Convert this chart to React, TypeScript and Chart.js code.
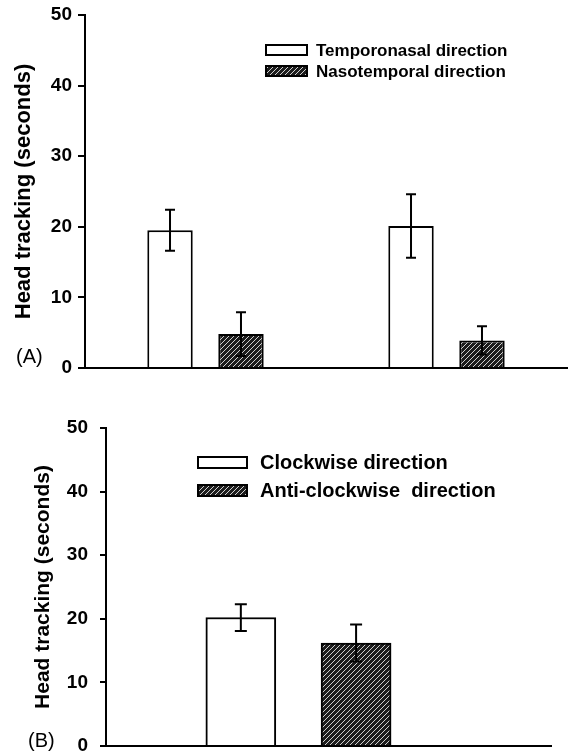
import React, { useEffect, useRef } from 'react';
import { Chart, registerables } from 'chart.js';

Chart.register(...registerables);

const FONT = '"Liberation Sans", Arial, Helvetica, sans-serif';

// ---------- Panel A data ----------
const categoriesA = ['Group 1', 'Group 2'];
const seriesLabelsA = ['Temporonasal direction', 'Nasotemporal direction'];
const temporonasalA = [19.5, 20.1];
const temporonasalErrA = [2.9, 4.5];
const nasotemporalA = [4.8, 3.9];
const nasotemporalErrA = [3.1, 2.0];

// ---------- Panel B data ----------
const seriesLabelsB = ['Clockwise direction', 'Anti-clockwise  direction'];
const positionsB = [3.03, 5.62];
const clockwiseB = [20.2];
const clockwiseErrB = [2.1];
const antiClockwiseB = [16.2];
const antiClockwiseErrB = [2.9];

// ---------- Axis ----------
const yTicks = [0, 10, 20, 30, 40, 50];
const yTitle = 'Head tracking (seconds)';
const panelLabels = ['(A)', '(B)'];

function makeHatch(ctx: CanvasRenderingContext2D): CanvasPattern | string {
  const s = 5;
  const c = document.createElement('canvas');
  c.width = s;
  c.height = s;
  const g = c.getContext('2d');
  if (!g) return '#333';
  g.fillStyle = '#1c1c1c';
  g.fillRect(0, 0, s, s);
  g.strokeStyle = '#d0d0d0';
  g.lineWidth = 1;
  g.beginPath();
  g.moveTo(0, s);
  g.lineTo(s, 0);
  g.moveTo(-1, 1);
  g.lineTo(1, -1);
  g.moveTo(s - 1, s + 1);
  g.lineTo(s + 1, s - 1);
  g.stroke();
  return ctx.createPattern(c, 'repeat') || '#333';
}

function errorBarPlugin(errs: number[][], cap: number) {
  return {
    id: 'errbars',
    afterDatasetsDraw(chart: any) {
      const ctx = chart.ctx;
      const y = chart.scales.y;
      ctx.save();
      ctx.strokeStyle = '#000';
      ctx.lineWidth = 2;
      chart.data.datasets.forEach((ds: any, i: number) => {
        const meta = chart.getDatasetMeta(i);
        meta.data.forEach((el: any, j: number) => {
          const raw = ds.data[j];
          const v = typeof raw === 'number' ? raw : raw.y;
          const e = errs[i][j];
          const x = el.x;
          const yt = y.getPixelForValue(v + e);
          const yb = y.getPixelForValue(v - e);
          ctx.beginPath();
          ctx.moveTo(x, yt);
          ctx.lineTo(x, yb);
          ctx.moveTo(x - cap / 2, yt);
          ctx.lineTo(x + cap / 2, yt);
          ctx.moveTo(x - cap / 2, yb);
          ctx.lineTo(x + cap / 2, yb);
          ctx.stroke();
        });
      });
      ctx.restore();
    },
  };
}

interface LegendCfg {
  labels: string[];
  fills: (string | CanvasPattern)[];
  boxX: number;
  boxY: number;
  boxW: number;
  boxH: number;
  rowGap: number;
  textX: number;
  fontSize: number;
  panelLabel: string;
  panelX: number;
  panelY: number;
}

function legendPlugin(cfg: LegendCfg) {
  return {
    id: 'customLegend',
    afterDraw(chart: any) {
      const ctx = chart.ctx;
      ctx.save();
      cfg.labels.forEach((lab, i) => {
        const by = cfg.boxY + i * cfg.rowGap;
        ctx.fillStyle = cfg.fills[i];
        ctx.fillRect(cfg.boxX, by, cfg.boxW, cfg.boxH);
        ctx.strokeStyle = '#000';
        ctx.lineWidth = 2;
        ctx.strokeRect(cfg.boxX, by, cfg.boxW, cfg.boxH);
        ctx.fillStyle = '#000';
        ctx.font = `bold ${cfg.fontSize}px ${FONT}`;
        ctx.textBaseline = 'middle';
        ctx.textAlign = 'left';
        ctx.fillText(lab, cfg.textX, by + cfg.boxH / 2 + 1);
      });
      ctx.font = `20px ${FONT}`;
      ctx.textBaseline = 'alphabetic';
      ctx.fillStyle = '#000';
      ctx.fillText(cfg.panelLabel, cfg.panelX, cfg.panelY);
      ctx.restore();
    },
  };
}

function yScale(fontSize: number, titleSize: number, titlePad: number, width: number, tickLen: number, tickPad: number) {
  return {
    min: 0,
    max: 50,
    afterBuildTicks: (s: any) => {
      s.ticks = yTicks.map((v) => ({ value: v }));
    },
    afterFit: (s: any) => {
      s.width = width;
      s.paddingTop = 0;
      s.paddingBottom = 0;
    },
    grid: {
      display: true,
      drawOnChartArea: false,
      drawTicks: true,
      tickLength: tickLen,
      color: '#000',
      lineWidth: 2,
    },
    border: { display: true, color: '#000', width: 2 },
    ticks: {
      color: '#000',
      padding: tickPad,
      font: { family: FONT, size: fontSize, weight: 'bold' },
    },
    title: {
      display: true,
      text: yTitle,
      color: '#000',
      padding: { top: titlePad, bottom: 0 },
      font: { family: FONT, size: titleSize, weight: 'bold' },
    },
  };
}

function PanelA() {
  const ref = useRef<HTMLCanvasElement>(null);
  useEffect(() => {
    const canvas = ref.current!;
    const ctx = canvas.getContext('2d')!;
    const hatch = makeHatch(ctx);
    const chart = new Chart(ctx, {
      type: 'bar',
      data: {
        labels: categoriesA,
        datasets: [
          {
            label: seriesLabelsA[0],
            data: temporonasalA,
            backgroundColor: '#ffffff',
            borderColor: '#000',
            borderWidth: 2,
            categoryPercentage: 0.589,
            barPercentage: 0.64,
          },
          {
            label: seriesLabelsA[1],
            data: nasotemporalA,
            backgroundColor: hatch as any,
            borderColor: '#000',
            borderWidth: 2,
            categoryPercentage: 0.589,
            barPercentage: 0.64,
          },
        ],
      },
      options: {
        responsive: false,
        animation: false,
        layout: { padding: { left: 0, top: 15, right: 1, bottom: 0 } },
        plugins: { legend: { display: false }, tooltip: { enabled: false } },
        scales: {
          x: {
            type: 'category',
            afterFit: (s: any) => {
              s.height = 12;
              s.paddingLeft = 0;
              s.paddingRight = 0;
            },
            grid: { display: false },
            border: { display: true, color: '#000', width: 2 },
            ticks: { display: false },
          },
          y: yScale(19, 22, 11, 85, 7, 6) as any,
        },
      },
      plugins: [
        errorBarPlugin([temporonasalErrA, nasotemporalErrA], 10),
        legendPlugin({
          labels: seriesLabelsA,
          fills: ['#ffffff', hatch],
          boxX: 266,
          boxY: 45,
          boxW: 41,
          boxH: 10,
          rowGap: 21,
          textX: 316,
          fontSize: 17,
          panelLabel: panelLabels[0],
          panelX: 16,
          panelY: 363,
        }),
      ],
    });
    return () => chart.destroy();
  }, []);
  return (
    <canvas
      ref={ref}
      width={568}
      height={380}
      style={{ position: 'absolute', left: 0, top: 0, width: 568, height: 380 }}
    />
  );
}

function PanelB() {
  const ref = useRef<HTMLCanvasElement>(null);
  useEffect(() => {
    const canvas = ref.current!;
    const ctx = canvas.getContext('2d')!;
    const hatch = makeHatch(ctx);
    const chart = new Chart(ctx, {
      type: 'bar',
      data: {
        datasets: [
          {
            label: seriesLabelsB[0],
            data: clockwiseB.map((v) => ({ x: positionsB[0], y: v })),
            backgroundColor: '#ffffff',
            borderColor: '#000',
            borderWidth: 2,
            barThickness: 70,
            grouped: false,
          },
          {
            label: seriesLabelsB[1],
            data: antiClockwiseB.map((v) => ({ x: positionsB[1], y: v })),
            backgroundColor: hatch as any,
            borderColor: '#000',
            borderWidth: 2,
            barThickness: 70,
            grouped: false,
          },
        ],
      },
      options: {
        responsive: false,
        animation: false,
        layout: { padding: { left: 0, top: 48, right: 17, bottom: 0 } },
        plugins: { legend: { display: false }, tooltip: { enabled: false } },
        scales: {
          x: {
            type: 'linear',
            min: 0,
            max: 10,
            offset: false,
            afterFit: (s: any) => {
              s.height = 7;
              s.paddingLeft = 0;
              s.paddingRight = 0;
            },
            grid: { display: false },
            border: { display: true, color: '#000', width: 2 },
            ticks: { display: false },
          },
          y: yScale(19, 21, 31, 106, 6, 12) as any,
        },
      },
      plugins: [
        errorBarPlugin([clockwiseErrB, antiClockwiseErrB], 12),
        legendPlugin({
          labels: seriesLabelsB,
          fills: ['#ffffff', hatch],
          boxX: 198,
          boxY: 77,
          boxW: 49,
          boxH: 11,
          rowGap: 28,
          textX: 260,
          fontSize: 20,
          panelLabel: panelLabels[1],
          panelX: 28,
          panelY: 367,
        }),
      ],
    });
    return () => chart.destroy();
  }, []);
  return (
    <canvas
      ref={ref}
      width={568}
      height={373}
      style={{ position: 'absolute', left: 0, top: 380, width: 568, height: 373 }}
    />
  );
}

export default function App() {
  return (
    <div
      style={{
        position: 'absolute',
        left: 0,
        top: 0,
        width: 568,
        height: 753,
        background: '#ffffff',
        overflow: 'hidden',
      }}
    >
      <PanelA />
      <PanelB />
    </div>
  );
}
